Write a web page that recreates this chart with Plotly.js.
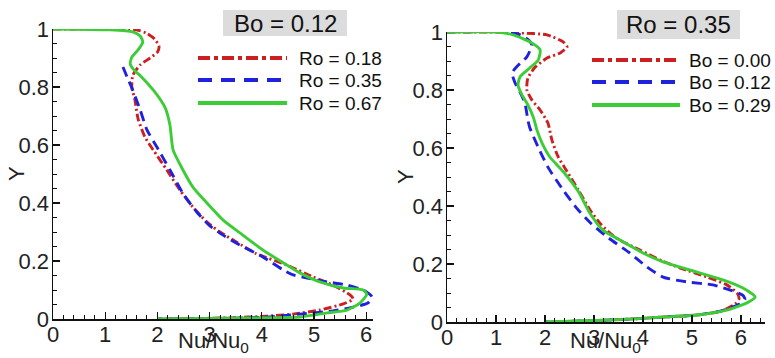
<!DOCTYPE html>
<html>
<head>
<meta charset="utf-8">
<script src="https://cdn.plot.ly/plotly-3.0.1.min.js"></script>
<style>
  html, body { margin: 0; padding: 0; background: #fff; }
  #chart { width: 775px; height: 358px; }
</style>
</head>
<body>
<div id="chart"></div>
<script>
// Left panel: Bo = 0.12, three rotation numbers
const leftTitle = "Bo = 0.12";
const leftNames = ["Ro = 0.18", "Ro = 0.35", "Ro = 0.67"];
const leftRedX = [0, 1.0, 1.6, 1.8, 1.95, 2.03, 2.0, 1.86, 1.67, 1.53, 1.51, 1.57, 1.63, 1.76, 1.92, 2.18, 2.43, 2.68, 2.95, 3.20, 3.52, 3.90, 4.48, 4.98, 5.36, 5.69, 5.75, 5.56, 5.11, 4.60, 4.10, 3.39, 2.43, 2.0];
const leftRedY = [1, 1, 0.997, 0.985, 0.965, 0.94, 0.92, 0.90, 0.876, 0.841, 0.80, 0.755, 0.69, 0.628, 0.583, 0.514, 0.445, 0.386, 0.334, 0.30, 0.265, 0.225, 0.186, 0.145, 0.117, 0.083, 0.069, 0.052, 0.031, 0.017, 0.010, 0.004, 0.001, 0];
const leftBlueX = [1.34, 1.42, 1.51, 1.67, 1.80, 1.99, 2.24, 2.50, 2.75, 3.0, 3.25, 3.58, 4.02, 4.41, 4.60, 4.87, 5.25, 5.63, 5.94, 6.11, 6.03, 5.75, 5.36, 4.73, 4.10, 3.45, 2.0];
const leftBlueY = [0.869, 0.834, 0.797, 0.721, 0.652, 0.593, 0.514, 0.43, 0.37, 0.322, 0.29, 0.255, 0.214, 0.169, 0.152, 0.141, 0.128, 0.117, 0.10, 0.076, 0.055, 0.041, 0.028, 0.017, 0.007, 0.003, 0];
const leftGreenX = [0, 1.09, 1.53, 1.67, 1.72, 1.63, 1.51, 1.48, 1.55, 1.70, 1.95, 2.15, 2.24, 2.30, 2.49, 2.68, 2.95, 3.26, 3.58, 4.02, 4.4, 4.73, 5.11, 5.56, 5.94, 6.01, 5.88, 5.63, 5.25, 4.73, 3.45, 2.0];
const leftGreenY = [1, 0.997, 0.99, 0.976, 0.955, 0.928, 0.903, 0.879, 0.859, 0.834, 0.783, 0.728, 0.669, 0.583, 0.514, 0.455, 0.40, 0.341, 0.297, 0.238, 0.195, 0.159, 0.128, 0.107, 0.10, 0.085, 0.055, 0.031, 0.021, 0.007, 0.003, 0];

// Right panel: Ro = 0.35, three buoyancy numbers
const rightTitle = "Ro = 0.35";
const rightNames = ["Bo = 0.00", "Bo = 0.12", "Bo = 0.29"];
const rightRedX = [0, 1.0, 1.49, 2.04, 2.37, 2.45, 2.31, 2.04, 1.80, 1.65, 1.63, 1.73, 1.90, 2.06, 2.14, 2.27, 2.45, 2.68, 2.92, 3.15, 3.45, 3.94, 4.40, 4.76, 5.31, 5.71, 5.92, 5.96, 5.88, 5.60, 5.10, 4.41, 3.73, 3.0, 2.0];
const rightRedY = [1, 1, 0.997, 0.99, 0.966, 0.948, 0.928, 0.91, 0.879, 0.841, 0.80, 0.766, 0.731, 0.686, 0.628, 0.569, 0.519, 0.455, 0.386, 0.335, 0.29, 0.248, 0.21, 0.186, 0.155, 0.128, 0.10, 0.08, 0.062, 0.038, 0.024, 0.017, 0.010, 0.005, 0];
const rightBlueX = [0, 1.2, 1.5, 1.68, 1.73, 1.63, 1.45, 1.33, 1.39, 1.49, 1.59, 1.65, 1.69, 1.86, 2.06, 2.37, 2.65, 2.92, 3.27, 3.73, 4.08, 4.41, 4.90, 5.43, 5.78, 6.04, 6.08, 5.95, 5.60, 5.10, 4.41, 3.73, 3.0, 2.0];
const rightBlueY = [1, 1, 0.99, 0.97, 0.955, 0.914, 0.885, 0.859, 0.824, 0.793, 0.755, 0.697, 0.67, 0.603, 0.534, 0.455, 0.392, 0.343, 0.293, 0.238, 0.19, 0.155, 0.138, 0.128, 0.11, 0.092, 0.078, 0.06, 0.038, 0.024, 0.017, 0.010, 0.005, 0];
const rightGreenX = [0, 1.0, 1.35, 1.69, 1.90, 1.86, 1.69, 1.49, 1.45, 1.53, 1.63, 1.76, 1.84, 1.94, 2.10, 2.37, 2.68, 2.92, 3.18, 3.53, 4.0, 4.41, 5.10, 5.63, 6.04, 6.29, 6.12, 5.71, 5.10, 4.41, 3.73, 3.0, 2.0];
const rightGreenY = [1, 1, 0.99, 0.966, 0.938, 0.903, 0.876, 0.845, 0.817, 0.783, 0.755, 0.707, 0.66, 0.617, 0.569, 0.519, 0.45, 0.374, 0.317, 0.283, 0.238, 0.207, 0.172, 0.145, 0.117, 0.086, 0.066, 0.041, 0.024, 0.017, 0.010, 0.005, 0];

const xTitle = "Nu/Nu<sub>0</sub>";
const yTitle = "Y";

const RED = "#cc1f1f", BLUE = "#1f22dd", GREEN = "#3ccc36";
const styles = [
  { color: RED, dash: "8px,3px,2px,3px" },
  { color: BLUE, dash: "10px,6px" },
  { color: GREEN, dash: "solid" }
];
const FONT = "Liberation Sans, Arial, sans-serif";

function curve(x, y, k, xa, ya) {
  return {
    x: x, y: y, type: "scatter", mode: "lines", xaxis: xa, yaxis: ya,
    line: { color: styles[k].color, width: 2.9, dash: styles[k].dash, shape: "spline", smoothing: 0.6 },
    showlegend: false, hoverinfo: "skip"
  };
}

const data = [
  curve(leftRedX, leftRedY, 0, "x", "y"),
  curve(leftBlueX, leftBlueY, 1, "x", "y"),
  curve(leftGreenX, leftGreenY, 2, "x", "y"),
  curve(rightRedX, rightRedY, 0, "x2", "y2"),
  curve(rightBlueX, rightBlueY, 1, "x2", "y2"),
  curve(rightGreenX, rightGreenY, 2, "x2", "y2")
];

const W = 775, H = 358;
const px = v => v / W;
const py = v => (H - v) / H;

function xAxis(domain, range, anchor) {
  return {
    domain: domain, range: range, anchor: anchor,
    showgrid: false, zeroline: false, showline: true, linecolor: "#111", linewidth: 1.5,
    ticks: "inside", ticklen: 7, tickwidth: 1.2, tickcolor: "#111",
    tick0: 0, dtick: 1,
    minor: { dtick: 0.2, ticks: "inside", ticklen: 4, tickwidth: 1, tickcolor: "#111" },
    tickfont: { family: FONT, size: 22, color: "#222" }, ticklabelstandoff: -5
  };
}
function yAxis(domain, anchor) {
  return {
    domain: domain, range: [0, 1], anchor: anchor,
    showgrid: false, zeroline: false, showline: true, linecolor: "#111", linewidth: 1.5,
    ticks: "inside", ticklen: 7, tickwidth: 1.2, tickcolor: "#111",
    tickvals: [0, 0.2, 0.4, 0.6, 0.8, 1], ticktext: ["0", "0.2", "0.4", "0.6", "0.8", "1"],
    minor: { dtick: 0.05, ticks: "inside", ticklen: 4, tickwidth: 1, tickcolor: "#111" },
    tickfont: { family: FONT, size: 22, color: "#222" }, ticklabelstandoff: -2
  };
}

const shapes = [];
const annotations = [];

function panelDecor(title, names, box, legX0, legX1, legTextX, rows, xMid, yMid) {
  shapes.push({ type: "rect", xref: "paper", yref: "paper",
    x0: px(box[0]), x1: px(box[1]), y0: py(box[3]), y1: py(box[2]),
    fillcolor: "#dcdcdc", line: { width: 0 }, layer: "below" });
  annotations.push({ xref: "paper", yref: "paper", x: px((box[0] + box[1]) / 2), y: py((box[2] + box[3]) / 2),
    xanchor: "center", yanchor: "middle", text: title, showarrow: false,
    font: { family: FONT, size: 24, color: "#111" } });
  names.forEach((n, k) => {
    shapes.push({ type: "line", xref: "paper", yref: "paper",
      x0: px(legX0), x1: px(legX1), y0: py(rows[k]), y1: py(rows[k]),
      line: { color: styles[k].color, width: 4, dash: k === 0 ? "12px,4px,4px,4px" : (k === 1 ? "14px,9px" : "solid") } });
    annotations.push({ xref: "paper", yref: "paper", x: px(legTextX), y: py(rows[k]),
      xanchor: "left", yanchor: "middle", text: n, showarrow: false,
      font: { family: FONT, size: 19, color: "#111" } });
  });
  annotations.push({ xref: "paper", yref: "paper", x: px(xMid), y: py(342),
    xanchor: "center", yanchor: "middle", text: xTitle, showarrow: false,
    font: { family: FONT, size: 22, color: "#222" } });
  annotations.push({ xref: "paper", yref: "paper", x: px(yMid[0]), y: py(yMid[1]),
    xanchor: "center", yanchor: "middle", text: yTitle, textangle: -90, showarrow: false,
    font: { family: FONT, size: 22, color: "#222" } });
}

panelDecor(leftTitle, leftNames, [223, 347, 10, 36], 198, 287, 297, [58, 80, 103], 213, [16, 174]);
panelDecor(rightTitle, rightNames, [617, 740, 10, 39], 592, 680, 687, [60, 82, 105], 605, [406, 177]);

const layout = {
  width: W, height: H,
  margin: { l: 0, r: 0, t: 0, b: 0 },
  paper_bgcolor: "#fff", plot_bgcolor: "#fff",
  showlegend: false,
  xaxis: xAxis([px(53), px(373)], [0, 6.13], "y"),
  yaxis: yAxis([py(319), py(29)], "x"),
  xaxis2: xAxis([px(447), px(765)], [0, 6.49], "y2"),
  yaxis2: yAxis([py(322), py(32)], "x2"),
  shapes: shapes,
  annotations: annotations
};

Plotly.newPlot("chart", data, layout, { displayModeBar: false, staticPlot: true });
</script>
</body>
</html>
